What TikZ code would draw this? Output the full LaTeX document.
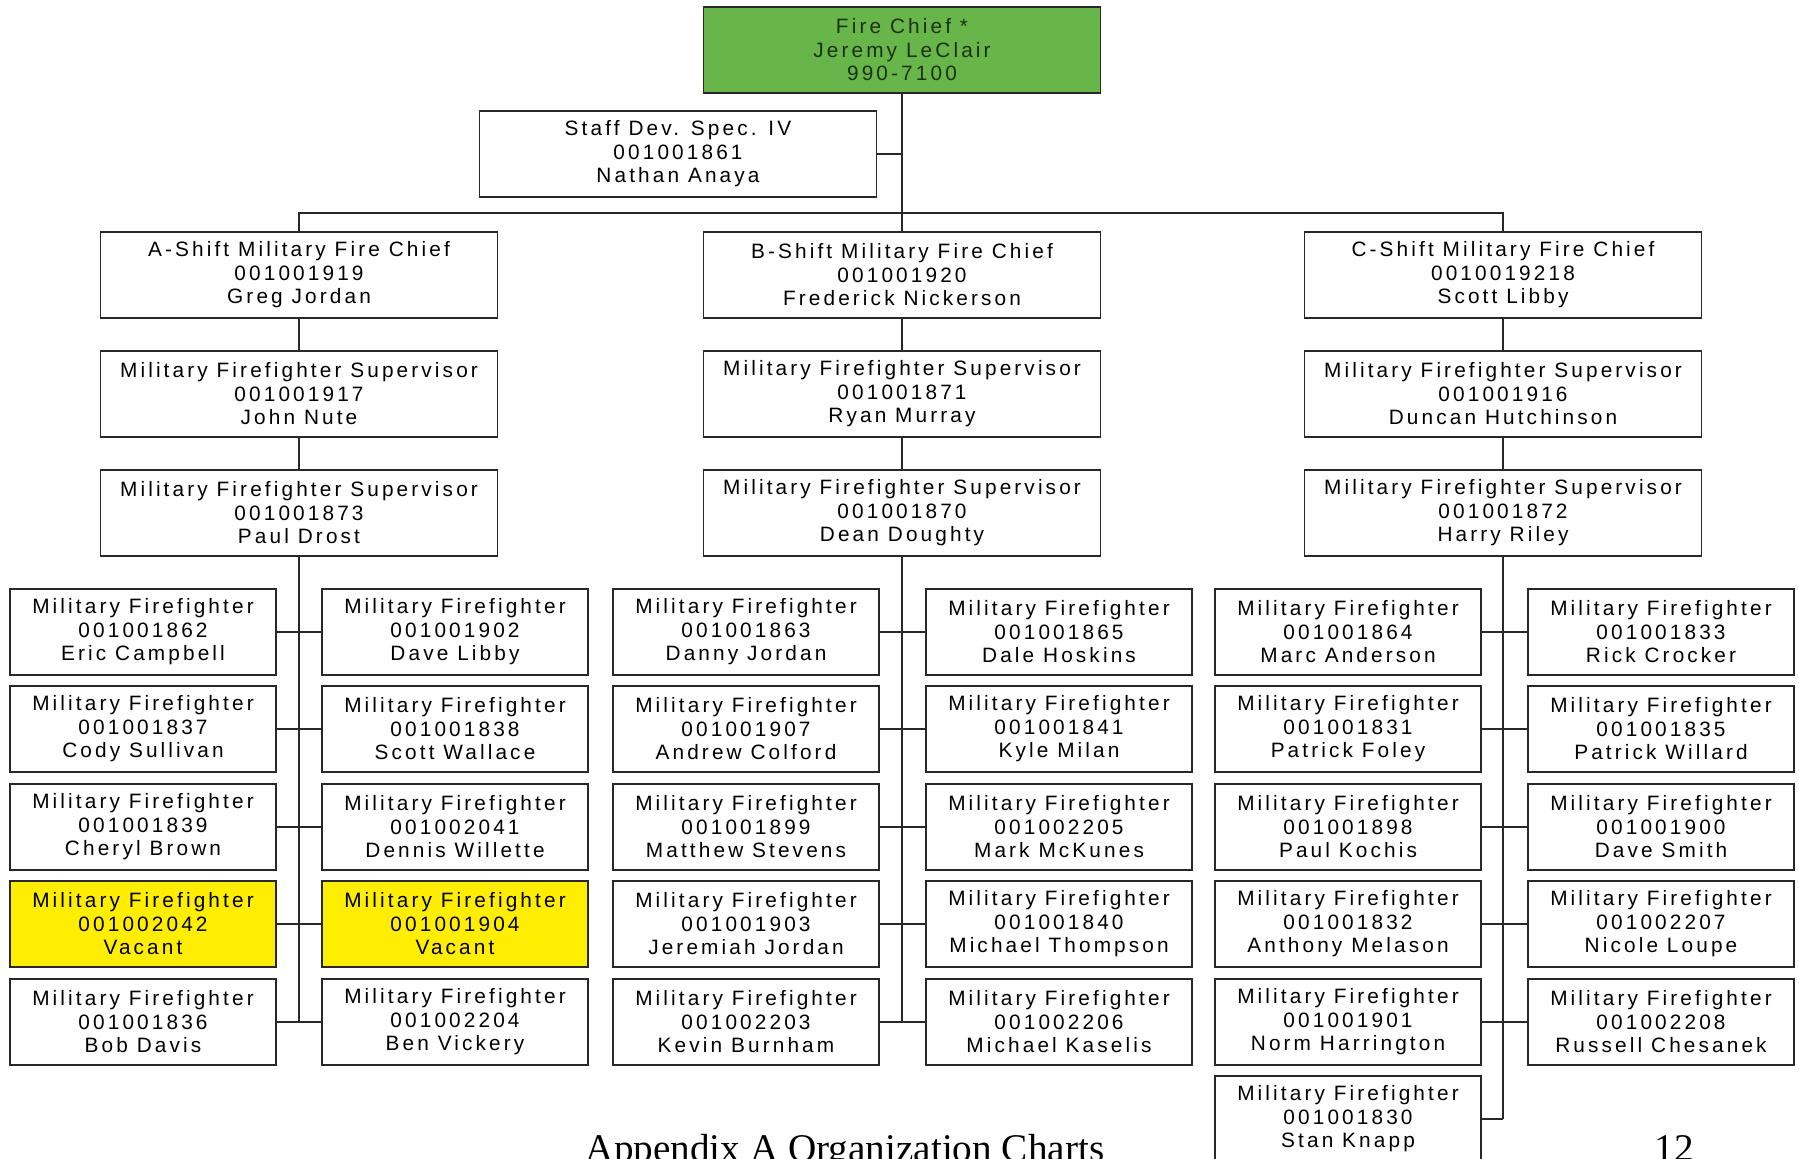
\documentclass[tikz,border=0pt]{standalone}
\usepackage{fontspec}
\setmainfont{Liberation Sans}
\newfontfamily\chartfont[LetterSpace=15]{Liberation Sans}
\newfontfamily\footerfont{Liberation Serif}
\definecolor{chiefgreen}{RGB}{104,182,74}
\definecolor{chieftext}{RGB}{28,48,20}
\definecolor{vacantyellow}{RGB}{255,238,0}
\definecolor{edge}{RGB}{40,40,40}
\begin{document}
\begin{tikzpicture}[x=0.5pt,y=-0.5pt,
  card/.style={draw=edge, line width=0.75pt, fill=white, align=center,
    inner sep=0pt, font={\chartfont\fontsize{10.4}{11.75}\selectfont}},
  topcard/.style={card, minimum width=198.5pt, minimum height=43pt},
  leaf/.style={card, minimum width=133pt, minimum height=43pt},
  vacant/.style={fill=vacantyellow},
  chiefcard/.style={topcard, fill=chiefgreen, text=chieftext},
  link/.style={draw=edge, line width=1pt}]

% page area
\fill[white] (0,0) rectangle (1799,1158);
\useasboundingbox (0,0) rectangle (1799,1158);

% top of the chart
\node[chiefcard] (chief) at (902,50) {Fire Chief *\\Jeremy LeClair\\990-7100};
\node[topcard] (staff) at (678,154) {Staff Dev. Spec. IV\\001001861\\Nathan Anaya};

% shift chiefs
\node[topcard] (shiftA) at (299,275) {A-Shift Military Fire Chief\\001001919\\Greg Jordan};
\node[topcard] (shiftB) at (902,275) {B-Shift Military Fire Chief\\001001920\\Frederick Nickerson};
\node[topcard] (shiftC) at (1503,275) {C-Shift Military Fire Chief\\0010019218\\Scott Libby};

% supervisors
\node[topcard] (supA1) at (299,394) {Military Firefighter Supervisor\\001001917\\John Nute};
\node[topcard] (supB1) at (902,394) {Military Firefighter Supervisor\\001001871\\Ryan Murray};
\node[topcard] (supC1) at (1503,394) {Military Firefighter Supervisor\\001001916\\Duncan Hutchinson};
\node[topcard] (supA2) at (299,513) {Military Firefighter Supervisor\\001001873\\Paul Drost};
\node[topcard] (supB2) at (902,513) {Military Firefighter Supervisor\\001001870\\Dean Doughty};
\node[topcard] (supC2) at (1503,513) {Military Firefighter Supervisor\\001001872\\Harry Riley};

% A shift firefighters
\node[leaf] (A1l) at (143,632) {Military Firefighter\\001001862\\Eric Campbell};
\node[leaf] (A2l) at (143,729) {Military Firefighter\\001001837\\Cody Sullivan};
\node[leaf] (A3l) at (143,827) {Military Firefighter\\001001839\\Cheryl Brown};
\node[leaf,vacant] (A4l) at (143,924) {Military Firefighter\\001002042\\Vacant};
\node[leaf] (A5l) at (143,1022) {Military Firefighter\\001001836\\Bob Davis};
\node[leaf] (A1r) at (455,632) {Military Firefighter\\001001902\\Dave Libby};
\node[leaf] (A2r) at (455,729) {Military Firefighter\\001001838\\Scott Wallace};
\node[leaf] (A3r) at (455,827) {Military Firefighter\\001002041\\Dennis Willette};
\node[leaf,vacant] (A4r) at (455,924) {Military Firefighter\\001001904\\Vacant};
\node[leaf] (A5r) at (455,1022) {Military Firefighter\\001002204\\Ben Vickery};

% B shift firefighters
\node[leaf] (B1l) at (746,632) {Military Firefighter\\001001863\\Danny Jordan};
\node[leaf] (B2l) at (746,729) {Military Firefighter\\001001907\\Andrew Colford};
\node[leaf] (B3l) at (746,827) {Military Firefighter\\001001899\\Matthew Stevens};
\node[leaf] (B4l) at (746,924) {Military Firefighter\\001001903\\Jeremiah Jordan};
\node[leaf] (B5l) at (746,1022) {Military Firefighter\\001002203\\Kevin Burnham};
\node[leaf] (B1r) at (1059,632) {Military Firefighter\\001001865\\Dale Hoskins};
\node[leaf] (B2r) at (1059,729) {Military Firefighter\\001001841\\Kyle Milan};
\node[leaf] (B3r) at (1059,827) {Military Firefighter\\001002205\\Mark McKunes};
\node[leaf] (B4r) at (1059,924) {Military Firefighter\\001001840\\Michael Thompson};
\node[leaf] (B5r) at (1059,1022) {Military Firefighter\\001002206\\Michael Kaselis};

% C shift firefighters
\node[leaf] (C1l) at (1348,632) {Military Firefighter\\001001864\\Marc Anderson};
\node[leaf] (C2l) at (1348,729) {Military Firefighter\\001001831\\Patrick Foley};
\node[leaf] (C3l) at (1348,827) {Military Firefighter\\001001898\\Paul Kochis};
\node[leaf] (C4l) at (1348,924) {Military Firefighter\\001001832\\Anthony Melason};
\node[leaf] (C5l) at (1348,1022) {Military Firefighter\\001001901\\Norm Harrington};
\node[leaf] (C6l) at (1348,1119) {Military Firefighter\\001001830\\Stan Knapp};
\node[leaf] (C1r) at (1661,632) {Military Firefighter\\001001833\\Rick Crocker};
\node[leaf] (C2r) at (1661,729) {Military Firefighter\\001001835\\Patrick Willard};
\node[leaf] (C3r) at (1661,827) {Military Firefighter\\001001900\\Dave Smith};
\node[leaf] (C4r) at (1661,924) {Military Firefighter\\001002207\\Nicole Loupe};
\node[leaf] (C5r) at (1661,1022) {Military Firefighter\\001002208\\Russell Chesanek};

% reporting lines
\coordinate (bus) at (902,213);
\coordinate (busL) at (shiftA.north |- bus);
\coordinate (busR) at (shiftC.north |- bus);
\draw[link] (chief.south) -- (bus);
\draw[link] (staff.east) -- (staff.east -| chief.south);
\draw[link] (shiftA.north) -- (busL) -- (busR) -- (shiftC.north);
\draw[link] (bus) -- (shiftB.north);
\foreach \s in {A,B,C}{
  \draw[link] (shift\s.south) -- (sup\s1.north);
  \draw[link] (sup\s1.south) -- (sup\s2.north);
}
\draw[link] (supA2.south) -- (supA2.south |- A5l.east);
\draw[link] (supB2.south) -- (supB2.south |- B5l.east);
\draw[link] (supC2.south) -- (supC2.south |- C6l.east);
\foreach \s in {A,B,C}{
  \foreach \r in {1,...,5}{
    \draw[link] (\s\r l.east) -- (\s\r r.west);
  }
}
\draw[link] (C6l.east) -- (C6l.east -| supC2.south);

% page footer
\node[anchor=base, font={\footerfont\fontsize{19.6}{22}\selectfont}] (footer) at (845,1161) {Appendix A Organization Charts};
\node[anchor=base, font={\footerfont\fontsize{19.6}{22}\selectfont}] (pageno) at (1674,1161) {12};
\end{tikzpicture}
\end{document}
